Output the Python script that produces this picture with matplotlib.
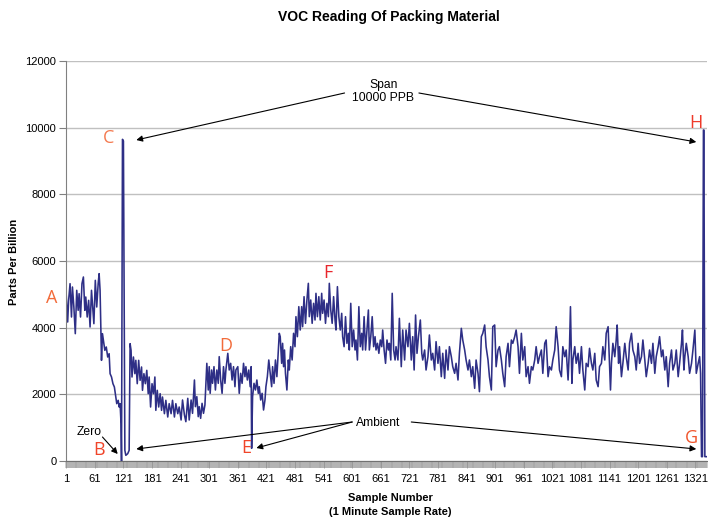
import numpy as np
import matplotlib
matplotlib.use("Agg")
import matplotlib.pyplot as plt

plt.rcParams['font.family'] = ['Liberation Sans', 'DejaVu Sans']

# sample number / reading (ppb)
sample_no = [
    1, 4, 6, 9, 12, 14, 17, 20, 23, 26, 28, 31, 34, 37, 40, 42, 45, 48, 51, 54,
    56, 59, 62, 65, 68, 70, 72, 75, 77, 79, 82, 85, 88, 91, 93, 96, 99, 102, 105, 107,
    110, 112, 114, 116, 117, 119, 121, 124, 126, 130, 133, 135, 137, 139, 142, 145, 147, 150, 153, 156,
    159, 161, 164, 167, 170, 173, 175, 178, 181, 184, 187, 189, 192, 195, 198, 201, 203, 207, 210, 214,
    217, 221, 224, 228, 231, 235, 238,
    242, 245, 249, 252, 256, 259, 263, 266, 270, 272, 275, 278, 280, 283, 286, 289, 292, 294, 296, 299,
    301, 303, 306, 308, 311, 314, 317, 320, 322, 325, 328, 331, 334, 336, 340, 343, 346, 349, 352, 355,
    357, 361, 364, 367, 370, 373, 376, 378, 381, 384, 387, 389, 390, 392, 395, 398, 401, 404, 406, 409,
    412, 415, 418, 420, 423, 426, 429, 432, 434, 437, 440, 443, 446, 448,
    450, 453, 455, 457, 459, 461, 464, 467, 469, 472, 475, 478, 481, 483, 486, 489, 492, 495, 497, 500,
    503, 506, 509, 511, 514, 517, 520, 523, 525, 528, 531, 534, 537, 539, 542, 545, 548, 551, 553, 556,
    559, 562, 565, 567, 570, 573, 576, 579, 581, 584, 587, 590, 593, 595, 598, 601, 604, 607, 609, 612,
    615, 618, 621, 623, 626, 629, 632, 635, 637, 640, 643, 646, 649, 651, 654, 657, 660, 663, 665, 668,
    671, 674, 677,
    679, 682, 685, 688, 691, 693, 697, 700, 704, 707, 711, 714, 718, 721, 725, 728, 731, 734, 737, 740,
    744, 747, 749, 753, 756, 760, 763, 767, 770, 774, 777, 781, 784, 788, 791, 795, 798, 802, 805, 809,
    812, 816, 819, 823, 826, 830, 833, 837, 840, 844, 847, 851, 854, 858, 861, 865, 868, 872, 875, 879,
    882, 886, 889, 893, 896, 900, 903, 907, 910, 914, 917, 921, 924, 928,
    931, 935, 938, 942, 945, 949, 952, 956, 959, 963, 966, 970, 973, 977, 980, 984, 987, 991, 994, 998,
    1001, 1005, 1008, 1012, 1015, 1019, 1022, 1026, 1029, 1033, 1036, 1040, 1043, 1047, 1050, 1054, 1057, 1059, 1062, 1064,
    1068, 1071, 1075, 1078, 1082, 1085, 1089, 1092, 1096, 1099, 1103, 1106, 1110, 1113, 1117, 1120, 1124, 1127, 1131, 1134,
    1138, 1141,
    1143, 1145, 1148, 1152, 1155, 1157, 1160, 1162, 1166, 1169, 1173, 1176, 1180, 1183, 1187, 1190, 1194, 1197, 1201, 1204,
    1208, 1211, 1215, 1218, 1222, 1225, 1229, 1232, 1236, 1239, 1243, 1246, 1250, 1253, 1257, 1260, 1264, 1267, 1271, 1274,
    1278, 1281, 1285, 1288, 1292, 1294, 1297, 1299, 1302, 1306, 1309, 1313, 1316, 1320, 1323, 1327, 1330, 1332, 1334, 1336,
    1338, 1339, 1341, 1345,
]
ppb = [
    4970, 4170, 4820, 5320, 4320, 5220, 4620, 3820, 5120, 4520, 5020, 4320, 5320, 5520, 4520, 4920, 4320, 4820, 4020, 5120,
    4720, 4120, 5420, 4620, 5320, 5620, 5120, 3020, 3820, 3620, 3320, 3420, 3120, 3220, 2620, 2520, 2320, 2220, 1920, 1720,
    1820, 1620, 1720, 1120, 0, 9650, 9600, 320, 170, 220, 320, 3520, 3320, 2520, 3120, 2620, 3020, 2320, 3020, 2420,
    2820, 2120, 2620, 2320, 2720, 2020, 2520, 1620, 2320, 2020, 2520, 1520, 2120, 1620, 2020, 1520, 1920, 1420, 1820, 1320,
    1720, 1420, 1820, 1320, 1720, 1420, 1620,
    1230, 1830, 1380, 1180, 1880, 1230, 1830, 1430, 2430, 1630, 1930, 1330, 1630, 1280, 1730, 1430, 1680, 2330, 2930, 2130,
    2830, 2030, 2730, 2330, 2830, 2130, 2730, 2330, 3130, 2430, 2030, 2830, 2330, 2730, 3230, 2730, 2930, 2430, 2830, 2230,
    2730, 2830, 2030, 2630, 2330, 2930, 2530, 2830, 2430, 2730, 2230, 2830, 380, 1930, 2330, 2130, 2430, 2030, 2230, 1830,
    2030, 1530, 1830, 2230, 2530, 3030, 2630, 2230, 2830, 2330, 3030, 2530, 3330, 3830,
    3730, 2930, 3530, 2830, 3330, 2630, 2130, 3030, 2730, 3430, 3030, 3830, 3430, 4330, 3730, 4630, 3930, 4630, 4030, 4930,
    4130, 4830, 5330, 4330, 4830, 4130, 4730, 4230, 5030, 4330, 4930, 4230, 5030, 4430, 4830, 4130, 4730, 4330, 5330, 4530,
    4130, 4930, 4230, 3930, 5230, 4330, 3930, 4430, 3730, 3430, 4330, 3530, 3830, 3330, 4730, 3430, 3930, 3330, 3630, 3030,
    4630, 3430, 3830, 3330, 4330, 3330, 3930, 4530, 3330, 3730, 4330, 3430, 3730, 3330, 3530, 3230, 3630, 3430, 3930, 3330,
    2930, 3630, 3330,
    3530, 3030, 5030, 3330, 3030, 3430, 3030, 4280, 2830, 3930, 3030, 3930, 3430, 4130, 3030, 3730, 2730, 4380, 3230, 3730,
    4230, 3230, 3030, 3330, 2730, 3130, 3780, 3030, 3230, 2730, 3580, 2930, 3430, 2530, 3230, 2480, 3330, 2730, 3430, 3130,
    2830, 2630, 2930, 2430, 3230, 3980, 3630, 3330, 3030, 2730, 3030, 2530, 2830, 2180, 3030, 2630, 2080, 3730, 3830, 4080,
    3430, 3030, 2530, 2130, 4030, 4080, 2830, 3330, 3430, 3030, 2630, 2230, 3130, 3530,
    2830, 3630, 3530, 3730, 3930, 3430, 2630, 3830, 3030, 3430, 2530, 2830, 2330, 2830, 2730, 3030, 3430, 2930, 3130, 3330,
    2630, 3530, 3630, 2530, 2830, 2730, 3030, 3330, 4030, 3430, 2730, 2530, 3430, 3130, 3330, 2430, 3430, 4630, 2330, 3030,
    3430, 2930, 3230, 2630, 3430, 2730, 2130, 2930, 2830, 3380, 2930, 2730, 3230, 2430, 2230, 2830, 2930, 3430, 3030, 3830,
    4030, 2930,
    2130, 2930, 3530, 3130, 3630, 4080, 2930, 3430, 2530, 2930, 3530, 3130, 2730, 3530, 3830, 3330, 3130, 2730, 3530, 2930,
    3130, 3630, 3030, 2530, 2930, 3330, 2930, 3530, 2630, 3130, 3430, 3730, 3130, 3330, 2730, 3130, 2230, 2930, 3330, 2730,
    2930, 3330, 2530, 2930, 3530, 3930, 2730, 3130, 3530, 3130, 2630, 2930, 3330, 3930, 2630, 2930, 3130, 2630, 130, 130,
    9930, 9930, 130, 130,
]

tick_labels = [str(v) for v in range(1, 1322, 60)]
y_ticks = [0, 2000, 4000, 6000, 8000, 10000, 12000]

fig = plt.figure(figsize=(7.08, 5.19), dpi=100)
ax = fig.add_axes([66 / 708, 58 / 519, 641 / 708, 400 / 519])

ax.plot(sample_no, ppb, color='#2e2f86', lw=1.15)

ax.set_xlim(0.5, 1345.5)
ax.set_ylim(0, 12000)
ax.set_yticks(y_ticks)
ax.set_yticklabels([str(v) for v in y_ticks], fontsize=8)
ax.set_xticks([int(t) for t in tick_labels])
ax.set_xticklabels(tick_labels, fontsize=8)
ax.set_xticks(np.arange(0.5, 1346, 1), minor=True)
ax.tick_params(axis='x', which='major', length=5, width=0.5, color='#909090', pad=4)
ax.tick_params(axis='x', which='minor', length=5, width=0.35, color='#909090')
ax.tick_params(axis='y', length=5, width=0.8, color='#808080', pad=2)
ax.grid(axis='y', color='#c0c0c0', lw=1)
ax.set_axisbelow(True)
for s in ['top', 'right']:
    ax.spines[s].set_visible(False)
ax.spines['left'].set_color('#808080')
ax.spines['bottom'].set_color('#707070')

fig.text(389 / 708, 1 - 17 / 519, 'VOC Reading Of Packing Material', ha='center', va='center',
         fontsize=10, fontweight='bold')
fig.text(14 / 708, 1 - 262 / 519, 'Parts Per Billion', rotation=90, ha='center', va='center',
         fontsize=8, fontweight='bold')
fig.text(390 / 708, 1 - 505 / 519, 'Sample Number\n(1 Minute Sample Rate)', ha='center', va='center',
         fontsize=8, fontweight='bold', linespacing=1.45)

# marker letters
letter_kw = dict(fontsize=13, ha='center', va='center', family=['Open Sans', 'DejaVu Sans'])
ax.text(-30, 4890, 'A', color='#f26b3a', clip_on=False, **letter_kw)
ax.text(70, 330, 'B', color='#f0452a', **letter_kw)
ax.text(89, 9690, 'C', color='#f47a50', **letter_kw)
ax.text(335, 3450, 'D', color='#f26b3a', **letter_kw)
ax.text(379, 390, 'E', color='#f0452a', **letter_kw)
ax.text(551, 5640, 'F', color='#e8262c', **letter_kw)
ax.text(1312, 690, 'G', color='#f0552c', **letter_kw)
ax.text(1323, 10140, 'H', color='#ee3a2a', **letter_kw)

arrow = dict(arrowstyle='-|>', color='black', lw=0.8, mutation_scale=9, shrinkA=0, shrinkB=0)

ax.text(666, 11085, 'Span\n10000 PPB', ha='center', va='center', fontsize=8.7, linespacing=1.2)
ax.annotate('', xy=(148, 9630), xytext=(585, 11040), arrowprops=arrow)
ax.annotate('', xy=(1323, 9570), xytext=(741, 11040), arrowprops=arrow)

ax.text(49, 870, 'Zero', ha='center', va='center', fontsize=8.7)
ax.annotate('', xy=(109, 210), xytext=(77, 720), arrowprops=arrow)

ax.text(656, 1140, 'Ambient', ha='center', va='center', fontsize=8.7)
ax.annotate('', xy=(148, 360), xytext=(601, 1170), arrowprops=arrow)
ax.annotate('', xy=(400, 390), xytext=(601, 1170), arrowprops=arrow)
ax.annotate('', xy=(1323, 360), xytext=(725, 1170), arrowprops=arrow)

fig.savefig('out.png', dpi=100)
